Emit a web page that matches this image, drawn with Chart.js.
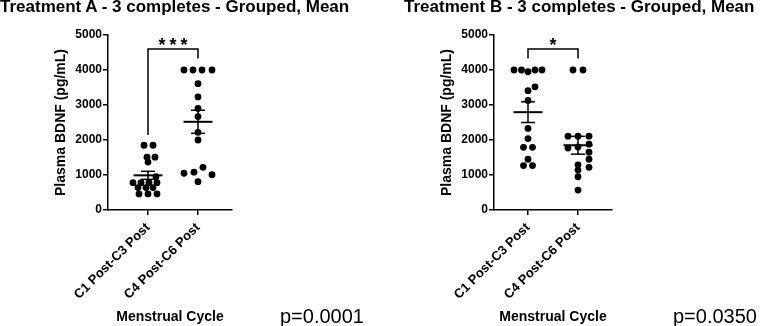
<!DOCTYPE html>
<html><head><meta charset="utf-8">
<script src="https://cdn.jsdelivr.net/npm/chart.js@4"></script>
<style>
html,body{margin:0;padding:0;background:#fff;width:761px;height:326px;overflow:hidden;position:relative;font-family:"Liberation Sans",Arial,sans-serif}
.panel{position:absolute;top:0;width:380px;height:326px}
.title{position:absolute;top:-2px;font-weight:bold;font-size:17px;line-height:1;white-space:nowrap;color:#000}
.pval{position:absolute;font-size:20px;line-height:1;white-space:nowrap;color:#000}
</style></head><body>
<div class="panel" style="left:0"><canvas id="cA" width="380" height="326" style="width:380px;height:326px"></canvas></div>
<div class="panel" style="left:381px"><canvas id="cB" width="380" height="326" style="width:380px;height:326px"></canvas></div>
<div class="title" style="left:0">Treatment A - 3 completes - Grouped, Mean</div>
<div class="title" style="left:404px">Treatment B - 3 completes - Grouped, Mean</div>
<div class="pval" style="left:280px;top:306px">p=0.0001</div>
<div class="pval" style="left:673px;top:306px">p=0.0350</div>
<script>
// ---- data ----
const categories = ['C1 Post-C3 Post', 'C4 Post-C6 Post'];
const yTicks = [0, 1000, 2000, 3000, 4000, 5000];
const yTickLabels = ['0', '1000', '2000', '3000', '4000', '5000'];
const yTitle = 'Plasma BDNF (pg/mL)';
const xTitle = 'Menstrual Cycle';

const valuesA1 = [1850, 1850, 1510, 1510, 1370, 950, 780, 780, 780, 780, 640, 640, 640, 460, 460, 460];
const jitterA1 = [-0.08, 0.10, -0.02, 0.14, 0, 0.16, -0.30, -0.14, 0.02, 0.18, -0.20, -0.04, 0.10, -0.18, 0, 0.18];
const valuesA2 = [4000, 4000, 4000, 4000, 3610, 3230, 2900, 2670, 2220, 2000, 1220, 1080, 1050, 1010, 810];
const jitterA2 = [-0.28, -0.10, 0.08, 0.28, 0, 0, 0, 0, 0, 0, 0.10, -0.08, -0.28, 0.28, 0];
const valuesB1 = [4000, 4000, 3950, 4000, 4000, 3520, 3410, 3130, 2330, 2040, 1790, 1790, 1450, 1270, 1270];
const jitterB1 = [-0.28, -0.13, 0, 0.14, 0.28, 0.14, 0, 0, 0, 0, -0.09, 0.09, 0, -0.09, 0.09];
const valuesB2 = [4000, 4000, 2110, 2110, 2110, 1880, 1800, 1770, 1650, 1450, 1290, 1220, 1140, 950, 570];
const jitterB2 = [-0.10, 0.10, -0.20, 0, 0.22, 0.22, 0, -0.20, 0.22, 0.22, 0, 0.22, 0, 0, 0];

const meansA = [990, 2520];
const semsA = [115, 330];
const meansB = [2795, 1850];
const semsB = [295, 255];

const bracketA = { y: 4600, legs: [2140, 4330], label: '***' };
const bracketB = { y: 4600, legs: [4330, 4330], label: '*' };

// ---- drawing ----
const FAM = '"Liberation Sans", Arial, sans-serif';

const overlay = {
  id: 'overlay',
  afterDatasetsDraw(chart, args, o) {
    const { ctx, scales: { x, y } } = chart;
    ctx.save();
    ctx.strokeStyle = '#000';
    ctx.lineCap = 'butt';
    const seg = (x1, y1, x2, y2) => { ctx.beginPath(); ctx.moveTo(x1, y1); ctx.lineTo(x2, y2); ctx.stroke(); };
    o.means.forEach((m, i) => {
      const c = i + 1, s = o.sems[i];
      const ym = y.getPixelForValue(m), yt = y.getPixelForValue(m + s), yb = y.getPixelForValue(m - s);
      ctx.lineWidth = 2;
      seg(x.getPixelForValue(c - 0.29), ym, x.getPixelForValue(c + 0.29), ym);
      ctx.lineWidth = 1.5;
      seg(x.getPixelForValue(c), yt, x.getPixelForValue(c), yb);
      seg(x.getPixelForValue(c - 0.14), yt, x.getPixelForValue(c + 0.14), yt);
      seg(x.getPixelForValue(c - 0.14), yb, x.getPixelForValue(c + 0.14), yb);
    });
    const b = o.bracket;
    const by = y.getPixelForValue(b.y);
    const x1 = x.getPixelForValue(1), x2 = x.getPixelForValue(2);
    ctx.lineWidth = 1.5;
    ctx.beginPath();
    ctx.moveTo(x1, y.getPixelForValue(b.legs[0]));
    ctx.lineTo(x1, by);
    ctx.lineTo(x2, by);
    ctx.lineTo(x2, y.getPixelForValue(b.legs[1]));
    ctx.stroke();
    ctx.fillStyle = '#000';
    ctx.font = 'bold 18px ' + FAM;
    ctx.textAlign = 'center';
    ctx.textBaseline = 'alphabetic';
    const chars = b.label.split('');
    const gap = 11;
    chars.forEach((ch, k) => {
      const cx = (x1 + x2) / 2 + (k - (chars.length - 1) / 2) * gap;
      ctx.fillText(ch, cx, by + 2);
    });
    ctx.restore();
  }
};

function pts(vals, jit, cat) { return vals.map((v, i) => ({ x: cat + jit[i], y: v })); }

function makePanel(id, g1, j1, g2, j2, means, sems, bracket, padL, padR, xmin, xmax) {
  const axisGrid = { display: true, drawOnChartArea: false, drawTicks: true, tickLength: 5, color: '#000', lineWidth: 1.5 };
  const border = { display: true, color: '#000', width: 1.5 };
  new Chart(document.getElementById(id), {
    type: 'scatter',
    data: {
      datasets: [{
        data: pts(g1, j1, 1).concat(pts(g2, j2, 2)),
        pointRadius: 3.4, pointBackgroundColor: '#000', pointBorderWidth: 0, showLine: false
      }]
    },
    options: {
      responsive: false, animation: false, devicePixelRatio: 1,
      layout: { padding: { left: padL, right: padR, top: 35, bottom: 0 } },
      plugins: { legend: { display: false }, tooltip: { enabled: false },
        overlay: { means, sems, bracket } },
      scales: {
        x: {
          type: 'linear', min: xmin, max: xmax,
          afterBuildTicks: s => { s.ticks = categories.map((c, i) => ({ value: i + 1 })); },
          afterFit: s => { s.height = 116; },
          ticks: { autoSkip: false, maxRotation: 45, minRotation: 45, color: '#000', padding: 5,
            font: { family: FAM, size: 13, weight: 'bold' },
            callback: v => categories[Math.round(v) - 1] },
          grid: axisGrid, border,
          title: { display: true, text: xTitle, color: '#000', padding: { top: 0, bottom: 0 },
            font: { family: FAM, size: 14, weight: 'bold' } }
        },
        y: {
          min: 0, max: 5000,
          afterBuildTicks: s => { s.ticks = yTicks.map(v => ({ value: v })); },
          afterFit: s => { s.width = 55; },
          ticks: { color: '#000', padding: 1, font: { family: FAM, size: 12, weight: 'bold' },
            callback: v => yTickLabels[yTicks.indexOf(v)] },
          grid: axisGrid, border,
          title: { display: true, text: yTitle, color: '#000', padding: 0,
            font: { family: FAM, size: 14, weight: 'bold' } }
        }
      }
    },
    plugins: [overlay]
  });
}

makePanel('cA', valuesA1, jitterA1, valuesA2, jitterA2, meansA, semsA, bracketA, 53, 148, 0.2, 2.68);
makePanel('cB', valuesB1, jitterB1, valuesB2, jitterB2, meansB, semsB, bracketB, 58, 149, 0.32, 2.68);
</script>
</body></html>
